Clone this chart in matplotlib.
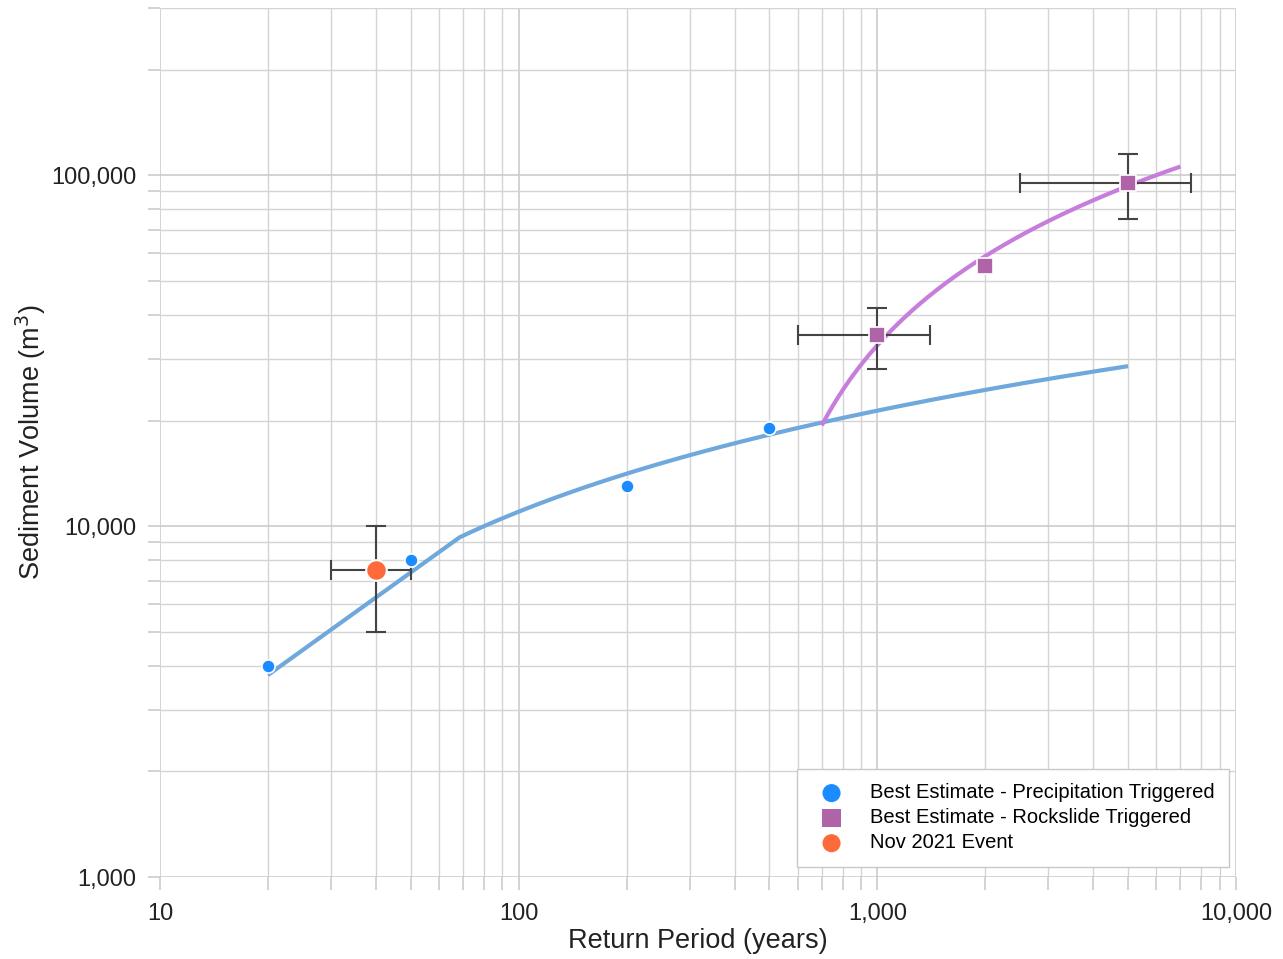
import numpy as np
import matplotlib
matplotlib.use("Agg")
import matplotlib.pyplot as plt
from matplotlib.ticker import FuncFormatter, LogLocator, NullFormatter

plt.rcParams['font.family'] = ['Liberation Sans', 'DejaVu Sans']

# Precipitation-triggered best estimates
precip_rp = [20, 50, 200, 500]
precip_vol = [4000, 8000, 13000, 19000]

# Rockslide-triggered best estimates
rock_rp = [1000, 2000, 5000]
rock_vol = [35000, 55000, 95000]
rock_xerr_lo = [600, 0, 2500]
rock_xerr_hi = [1400, 0, 7500]
rock_yerr_lo = [28000, 0, 75000]
rock_yerr_hi = [42000, 0, 115000]

# November 2021 event
event_rp = [40]
event_vol = [7500]
event_x_range = [30, 50]
event_y_range = [5000, 10000]

# Trendline extents
precip_fit_range = [20, 5000]
rock_fit_range = [700, 7000]

C_BLUE = "#1a8cff"
C_BLUE_LINE = "#6fa8dc"
C_PURPLE = "#b064a8"
C_PURPLE_LINE = "#c77ddc"
C_ORANGE = "#ff6a3a"
C_ERR = "#444444"
C_TEXT = "#222222"

fig = plt.figure(figsize=(12.83, 9.59), dpi=100)
ax = fig.add_axes([0.1247, 0.0855, 0.9634 - 0.1247, 0.99166 - 0.0855])
ax.set_xscale("log")
ax.set_yscale("log")
ax.set_xlim(10, 10000)
ax.set_ylim(1000, 3.0e5)

# Logarithmic trendlines: V = a*ln(T) + b
a1, b1 = np.polyfit(np.log(precip_rp), precip_vol, 1)
t1 = np.concatenate([[precip_fit_range[0]],
                     np.geomspace(68.5, precip_fit_range[1], 160)])
ax.plot(t1, a1 * np.log(t1) + b1, color=C_BLUE_LINE, lw=3, zorder=3,
        solid_capstyle="butt")

a2, b2 = np.polyfit(np.log(rock_rp), rock_vol, 1)
t2 = np.geomspace(rock_fit_range[0], rock_fit_range[1], 200)
ax.plot(t2, a2 * np.log(t2) + b2, color=C_PURPLE_LINE, lw=3, zorder=3,
        solid_capstyle="butt")

# Error bars
ev_x, ev_y = event_rp[0], event_vol[0]
ax.errorbar(event_rp, event_vol,
            xerr=[[ev_x - event_x_range[0]], [event_x_range[1] - ev_x]],
            yerr=[[ev_y - event_y_range[0]], [event_y_range[1] - ev_y]],
            fmt="none", ecolor=C_ERR, elinewidth=1.5, capsize=7, capthick=1.5,
            zorder=4)
for x, y, xl, xh, yl, yh in zip(rock_rp, rock_vol, rock_xerr_lo, rock_xerr_hi,
                                rock_yerr_lo, rock_yerr_hi):
    if xl == 0:
        continue
    ax.errorbar([x], [y], xerr=[[x - xl], [xh - x]], yerr=[[y - yl], [yh - y]],
                fmt="none", ecolor=C_ERR, elinewidth=1.5, capsize=7,
                capthick=1.5, zorder=4)

# Markers
ax.scatter(precip_rp, precip_vol, s=90, color=C_BLUE, edgecolor="white",
           linewidth=1.2, zorder=5, label="Best Estimate - Precipitation Triggered")
ax.scatter(rock_rp, rock_vol, s=120, marker="s", color=C_PURPLE,
           edgecolor="white", linewidth=1.2, zorder=5,
           label="Best Estimate - Rockslide Triggered")
ax.scatter(event_rp, event_vol, s=220, color=C_ORANGE, edgecolor="white",
           linewidth=1.5, zorder=6, label="Nov 2021 Event")

# Grid and ticks
ax.xaxis.set_major_locator(LogLocator(base=10, numticks=10))
ax.yaxis.set_major_locator(LogLocator(base=10, numticks=10))
ax.xaxis.set_minor_locator(LogLocator(base=10, subs=np.arange(2, 10), numticks=20))
ax.yaxis.set_minor_locator(LogLocator(base=10, subs=np.arange(2, 10), numticks=20))
ax.xaxis.set_minor_formatter(NullFormatter())
ax.yaxis.set_minor_formatter(NullFormatter())
fmt = FuncFormatter(lambda v, p: f"{int(round(v)):,}")
ax.xaxis.set_major_formatter(fmt)
ax.yaxis.set_major_formatter(fmt)
ax.grid(True, which="major", color="#c8c8c8", lw=1.1)
ax.grid(True, which="minor", color="#d4d4d4", lw=1.0)
ax.set_axisbelow(True)
for s in ax.spines.values():
    s.set_visible(False)
ax.tick_params(which="both", color="#c8c8c8", width=1.1,
               labelsize=17, labelcolor=C_TEXT)
ax.tick_params(axis="y", which="both", length=9, pad=8)
ax.tick_params(axis="x", which="both", length=9, pad=10)

ax.set_xlabel("Return Period (years)", fontsize=19.5, color=C_TEXT, labelpad=2)
ax.set_ylabel("Sediment Volume (m$^3$)", fontsize=19.5, color=C_TEXT, labelpad=2)

leg = ax.legend(loc="lower right", bbox_to_anchor=(0.993, 0.012), fontsize=14.5,
                frameon=True, fancybox=False, edgecolor="#c8c8c8",
                framealpha=1, borderpad=0.7, handletextpad=0.9,
                labelspacing=0.3, borderaxespad=0)
for h in leg.legend_handles:
    h.set_sizes([170])
    h.set_edgecolor("none")
leg.get_frame().set_linewidth(1.0)
leg.set_zorder(10)

fig.savefig("out.png", dpi=100, facecolor="white")
